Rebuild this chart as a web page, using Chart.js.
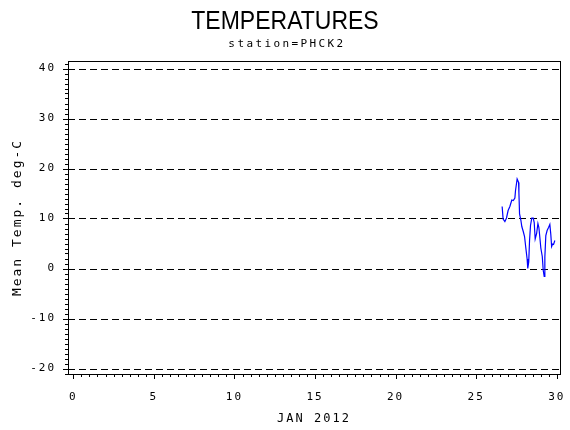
<!DOCTYPE html>
<html lang="en">
<head>
    <meta charset="UTF-8">
    <title>TEMPERATURES</title>
    <script src="https://cdn.jsdelivr.net/npm/chart.js"></script>
    <style>
        body { margin: 0; background: #fff; }
        #chart { display: block; }
    </style>
</head>
<body>
    <canvas id="chart" width="570" height="430"></canvas>

    <script>
        // day of month (Jan 2012) and mean temperature
        const dayVals = [26.61, 26.67, 26.78, 26.88, 26.98, 27.09, 27.21, 27.30, 27.40, 27.44,
                         27.54, 27.63, 27.65, 27.69, 27.77, 27.83, 27.92, 28.00, 28.08, 28.16,
                         28.20, 28.26, 28.31, 28.37, 28.45, 28.54, 28.60, 28.66, 28.75, 28.83,
                         28.89, 28.95, 29.01, 29.10, 29.16, 29.22, 29.26, 29.32, 29.40, 29.49,
                         29.57, 29.63, 29.68, 29.74, 29.80, 29.88];
        const tempVals = [12.4, 9.9, 9.4, 10.1, 11.6, 12.4, 13.7, 13.6, 14.1, 15.6,
                          17.9, 17.2, 15.2, 10.9, 9.7, 8.4, 7.4, 6.4, 4.1, 1.9,
                          0.0, 1.3, 5.6, 8.6, 10.1, 10.1, 9.2, 5.9, 7.0, 9.0,
                          8.2, 6.2, 4.1, 2.4, -0.4, -1.6, 2.3, 6.6, 7.6, 8.2,
                          8.8, 6.8, 4.4, 4.9, 4.8, 5.6];

        const xTicks = [0, 5, 10, 15, 20, 25, 30];
        const yTicks = [-20, -10, 0, 10, 20, 30, 40];

        const mono = 'DejaVu Sans Mono';

        // SAS-like frame, dashed reference lines and minor ticks
        const framePlugin = {
            id: 'frame',
            beforeLayout(chart) { chart.ctx.letterSpacing = '2px'; },
            beforeDraw(chart) { chart.ctx.letterSpacing = '2px'; },
            beforeDatasetsDraw(chart) {
                const { ctx, chartArea: a, scales: { y } } = chart;
                ctx.save();
                ctx.strokeStyle = '#000';
                ctx.lineWidth = 1;
                ctx.setLineDash([7, 4]);
                yTicks.forEach(v => {
                    const py = Math.round(y.getPixelForValue(v)) + 0.5;
                    ctx.beginPath();
                    ctx.moveTo(a.left, py);
                    ctx.lineTo(a.right, py);
                    ctx.stroke();
                });
                ctx.restore();
            },
            afterDatasetsDraw(chart) {
                const { ctx, chartArea: a, scales: { x, y } } = chart;
                ctx.save();
                ctx.strokeStyle = '#000';
                ctx.lineWidth = 1;
                ctx.strokeRect(Math.round(a.left) + 0.5, Math.round(a.top) + 0.5,
                               Math.round(a.right - a.left), Math.round(a.bottom - a.top));
                ctx.beginPath();
                for (let d = 0; d <= 30; d += 0.5) {
                    const px = Math.round(x.getPixelForValue(d)) + 0.5;
                    const len = d % 5 === 0 ? 5 : 3;
                    ctx.moveTo(px, a.bottom);
                    ctx.lineTo(px, a.bottom + len);
                }
                for (let t = -21; t <= 41; t++) {
                    const py = Math.round(y.getPixelForValue(t)) + 0.5;
                    const len = t % 10 === 0 ? 5 : 3;
                    ctx.moveTo(a.left, py);
                    ctx.lineTo(a.left - len, py);
                }
                ctx.stroke();
                ctx.restore();
            },
            afterDraw(chart) {
                const { ctx } = chart;
                ctx.save();
                ctx.fillStyle = '#000';
                ctx.textAlign = 'center';
                ctx.textBaseline = 'alphabetic';
                ctx.letterSpacing = '0px';
                ctx.font = '25px "Liberation Sans", sans-serif';
                ctx.save();
                ctx.translate(chart.width / 2, 29);
                ctx.scale(0.92, 1);
                ctx.fillText('TEMPERATURES', 0, 0);
                ctx.restore();
                ctx.letterSpacing = '2.4px';
                ctx.font = '11px "' + mono + '"';
                ctx.fillText('station=PHCK2', chart.width / 2 + 2, 47);
                ctx.restore();
            }
        };

        const points = dayVals.map((d, i) => ({ x: d, y: tempVals[i] }));

        new Chart(document.getElementById('chart'), {
            type: 'line',
            data: {
                datasets: [{
                    data: points,
                    borderColor: '#0000ff',
                    borderWidth: 1.2,
                    pointRadius: 0,
                    tension: 0,
                    fill: false
                }]
            },
            options: {
                responsive: false,
                animation: false,
                layout: { padding: { top: 61, right: 0, left: 0, bottom: 0 } },
                plugins: {
                    legend: { display: false },
                    tooltip: { enabled: false }
                },
                scales: {
                    x: {
                        type: 'linear',
                        min: -0.33,
                        max: 30.2,
                        afterBuildTicks: s => { s.ticks = xTicks.map(v => ({ value: v })); },
                        afterFit: s => {
                            s.height = 56;
                            s.paddingLeft = 0;
                            s.paddingRight = 10;
                        },
                        grid: { display: false },
                        border: { display: false },
                        ticks: {
                            color: '#000',
                            font: { family: mono, size: 11 },
                            padding: 9,
                            maxRotation: 0,
                            autoSkip: false
                        },
                        title: {
                            display: true,
                            text: 'JAN 2012',
                            color: '#000',
                            font: { family: mono, size: 12 },
                            padding: { top: 0, bottom: 4 }
                        }
                    },
                    y: {
                        min: -21.1,
                        max: 41.5,
                        afterBuildTicks: s => { s.ticks = yTicks.map(v => ({ value: v })); },
                        afterFit: s => { s.width = 68; },
                        grid: { display: false },
                        border: { display: false },
                        ticks: {
                            color: '#000',
                            font: { family: mono, size: 11 },
                            padding: 4,
                            autoSkip: false
                        },
                        title: {
                            display: true,
                            text: 'Mean Temp. deg-C',
                            color: '#000',
                            font: { family: mono, size: 13 },
                            padding: { top: 10, bottom: 0 }
                        }
                    }
                }
            },
            plugins: [framePlugin]
        });
    </script>
</body>
</html>
